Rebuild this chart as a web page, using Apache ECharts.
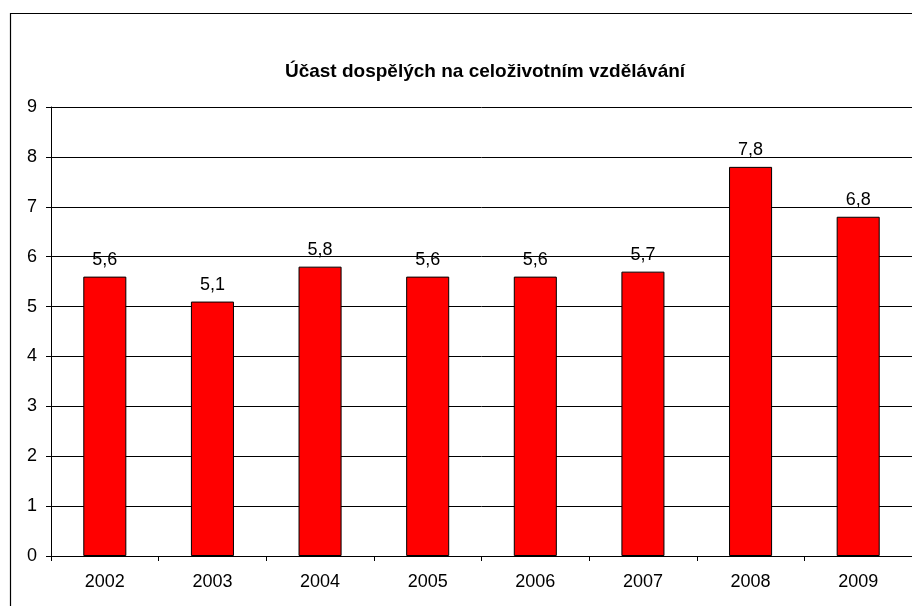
<!DOCTYPE html>
<html>
<head>
<meta charset="utf-8">
<script src="https://cdn.jsdelivr.net/npm/echarts@6/dist/echarts.min.js"></script>
<style>
html,body{margin:0;padding:0;background:#fff;}
#chart{width:912px;height:606px;}
</style>
</head>
<body>
<div id="chart"></div>
<script>
// data
var years = ['2002','2003','2004','2005','2006','2007','2008','2009'];
var values = [5.6, 5.1, 5.8, 5.6, 5.6, 5.7, 7.8, 6.8];
var titleText = 'Účast dospělých na celoživotním vzdělávání';

var myChart = echarts.init(document.getElementById('chart'));
var font = 'Arial, "Liberation Sans", sans-serif';
var option = {
    backgroundColor: '#fff',
    animation: false,
    title: {
        text: titleText,
        left: 480,
        textAlign: 'center',
        top: 57,
        textStyle: {fontFamily: font, fontSize: 19, fontWeight: 'bold', color: '#000'}
    },
    graphic: [{
        // frame of the chart area (cut by the picture on the right and bottom)
        type: 'rect',
        shape: {x: 10.5, y: 13.5, width: 1000, height: 1000},
        style: {fill: null, stroke: '#000', lineWidth: 1.2},
        silent: true
    }],
    grid: {left: 51, right: -2, top: 107, bottom: 50, containLabel: false},
    xAxis: {
        type: 'category',
        data: years,
        axisLine: {lineStyle: {color: '#000', width: 1}},
        axisTick: {show: true, length: 5, lineStyle: {color: '#000'}},
        axisLabel: {fontFamily: font, fontSize: 18, color: '#000', margin: 17}
    },
    yAxis: {
        type: 'value',
        min: 0,
        max: 9,
        interval: 1,
        axisLine: {show: true, lineStyle: {color: '#000', width: 1}},
        axisTick: {show: true, length: 5, lineStyle: {color: '#000'}},
        axisLabel: {fontFamily: font, fontSize: 18, color: '#000', margin: 14},
        splitLine: {show: true, lineStyle: {color: '#000', width: 1}}
    },
    series: [{
        type: 'bar',
        data: values,
        barWidth: '40%',
        itemStyle: {color: '#ff0000', borderColor: '#000', borderWidth: 1},
        label: {
            show: true,
            position: 'top',
            distance: 8,
            fontFamily: font,
            fontSize: 18,
            color: '#000',
            formatter: function (p) {
                return String(p.value).replace('.', ',');
            }
        }
    }]
};
myChart.setOption(option);
</script>
</body>
</html>
